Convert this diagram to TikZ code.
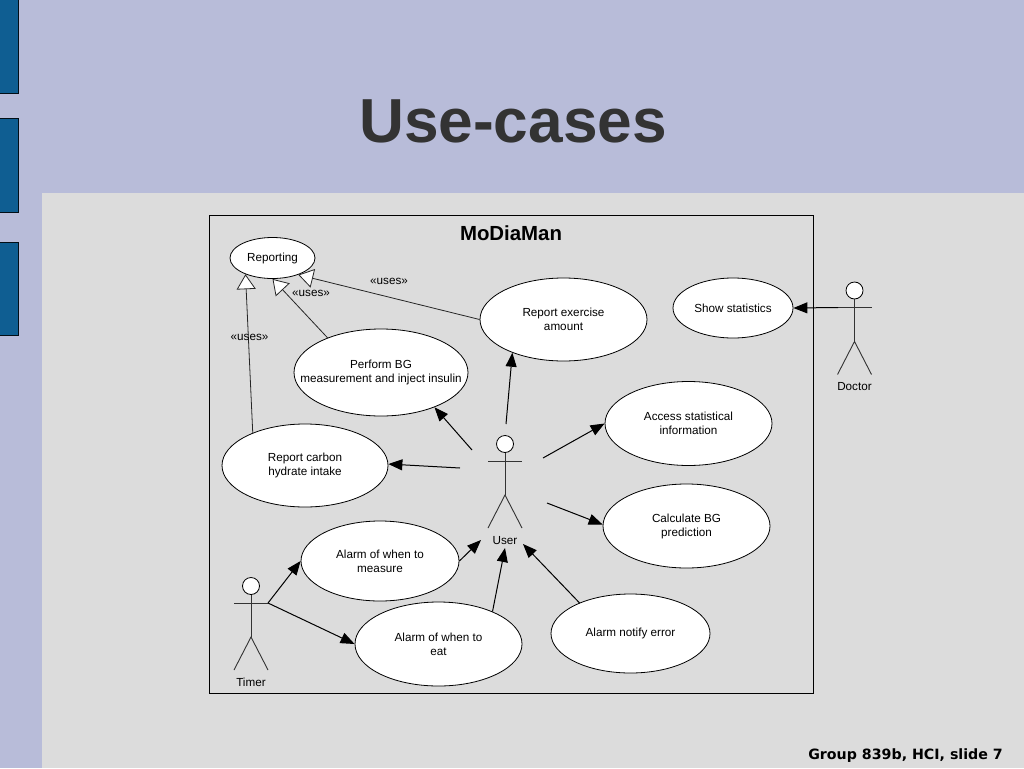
\documentclass[tikz,border=0pt]{standalone}
\usepackage{fontspec}
\setmainfont{Liberation Sans}
\newfontfamily\footfont{DejaVu Sans}
\usetikzlibrary{arrows.meta, shapes.geometric}
\definecolor{slideblue}{HTML}{B8BCD9}
\definecolor{panelgrey}{HTML}{DCDCDC}
\definecolor{barblue}{HTML}{0F5E92}
\definecolor{titlegrey}{HTML}{333333}
\tikzset{
  usecase/.style={draw=black, fill=white, ellipse, inner sep=0pt, line width=.8pt, align=center,
    font=\fontsize{11.7}{14}\selectfont},
  label/.style={inner sep=0pt, font=\fontsize{11.7}{14}\selectfont},
  limb/.style={line width=.9pt, draw=black!80},
  assoc/.style={line width=1pt, -{Triangle[length=14pt,width=11pt]}},
  uses/.style={line width=.8pt, draw=black!85, -{Triangle[open,fill=white,length=15pt,width=19pt]}},
}
\begin{document}
\begin{tikzpicture}[x=1pt, y=-1pt]
      \useasboundingbox (0,0) rectangle (1024,768);
      \fill[slideblue] (0,0) rectangle (1024,768);
      \fill[panelgrey] (42,193) rectangle (1024,768);
      \foreach \top/\bottom in {-2/93, 118/212, 242/335}{
        \draw[fill=barblue, draw=black!85!barblue, line width=.8pt] (-2,\top) rectangle (18,\bottom);
      }
      \node[titlegrey, inner sep=0pt, font=\fontsize{62.2}{62}\bfseries\selectfont] (title) at (513,121) {Use-cases};
      \node[inner sep=0pt, anchor=east, font=\fontsize{14.2}{16}\footfont\bfseries\selectfont] (footer) at (1003,756) {Group 839b, HCI, slide 7};
      \draw[line width=1.1pt] (209.5,215.5) rectangle (813.5,693.5);
      \node[inner sep=0pt, font=\fontsize{20.4}{24}\bfseries\selectfont] (system) at (511,233) {MoDiaMan};
      % use cases
      \node[usecase, minimum width=85pt, minimum height=41pt] (reporting) at (272.5,258) {Reporting};
      \node[usecase, minimum width=167pt, minimum height=83pt] (exercise) at (563.5,319.5) {Report exercise\\amount};
      \node[usecase, minimum width=120pt, minimum height=60pt] (statistics) at (733,308) {Show statistics};
      \node[usecase, inner xsep=-22pt, minimum width=174pt, minimum height=87pt] (perform) at (381,372.5) {Perform BG\\measurement and inject insulin};
      \node[usecase, minimum width=167pt, minimum height=84pt] (access) at (688.5,423.5) {Access statistical\\information};
      \node[usecase, minimum width=166pt, minimum height=83pt] (carbon) at (305,465.5) {Report carbon\\hydrate intake};
      \node[usecase, minimum width=167pt, minimum height=84pt] (predict) at (686.5,526) {Calculate BG\\prediction};
      \node[usecase, minimum width=158pt, minimum height=80pt] (measure) at (380,561) {Alarm of when to\\measure};
      \node[usecase, minimum width=167pt, minimum height=84pt] (eat) at (438.5,644) {Alarm of when to\\eat};
      \node[usecase, minimum width=159pt, minimum height=79pt] (notify) at (630.5,633.5) {Alarm notify error};
      % actors
      \foreach \actor/\x/\y/\low in {User/505/444/97, Doctor/854.5/290.5/96, Timer/251/586/96}{
        \node[draw=black, fill=white, circle, inner sep=0pt, minimum size=17pt, line width=.8pt] (\actor head) at (\x,\y) {};
        \coordinate (\actor arm) at (\x,\y+17);
        \coordinate (\actor hip) at (\x,\y+51);
        \draw[limb] (\actor head) -- (\actor hip);
        \draw[limb] (\x-17,\y+17) -- (\x+17,\y+17);
        \draw[limb] (\x-17,\y+84) -- (\actor hip) -- (\x+17,\y+84);
        \node[label] (\actor) at (\x,\y+\low) {\actor};
      }
      \coordinate (userUp) at (506,424);
      \coordinate (userUpLeft) at (472,450);
      \coordinate (userLeft) at (460,468);
      \coordinate (userRight) at (543,458);
      \coordinate (userDownRight) at (547,503);
      \coordinate (userInLeft) at (481,540);
      \coordinate (userInBottom) at (505,548);
      \coordinate (userInRight) at (523,544);
      \coordinate (doctorArm) at (838,307.5);
      \coordinate (timerArm) at (268,603);
      % associations
      \draw[assoc] (userUp) -- (exercise.213);
      \draw[assoc] (userUpLeft) -- (perform.-33);
      \draw[assoc] (userLeft) -- (carbon.1);
      \draw[assoc] (userRight) -- (access.180);
      \draw[assoc] (userDownRight) -- (predict.179);
      \draw[assoc] (measure.0) -- (userInLeft);
      \draw[assoc] (eat.31.4) -- (userInBottom);
      \draw[assoc] (notify.149.7) -- (userInRight);
      \draw[assoc] (timerArm) -- (measure.180);
      \draw[assoc] (timerArm) -- (eat.180);
      \draw[assoc] (doctorArm) -- (statistics.0);
      % uses
      \draw[uses] (exercise.180) -- (reporting.-33);
      \draw[uses] (perform.147.9) -- (reporting.-90);
      \draw[uses] (carbon.148) -- (reporting.211);
      \node[label] (usesExercise) at (389,281) {«uses»};
      \node[label] (usesPerform) at (311,293.5) {«uses»};
      \node[label] (usesCarbon) at (249.5,337.5) {«uses»};
    \end{tikzpicture}
\end{document}
